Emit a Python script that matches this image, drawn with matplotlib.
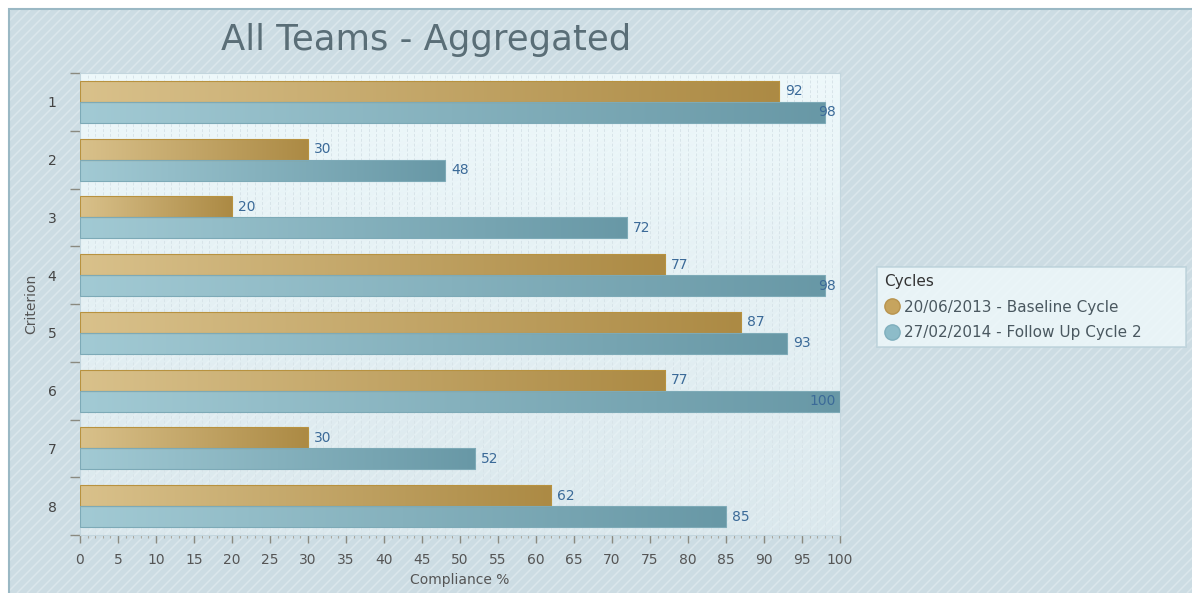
import numpy as np
import matplotlib
matplotlib.use("Agg")
import matplotlib.pyplot as plt
from matplotlib.collections import LineCollection
from matplotlib.patches import Rectangle
from matplotlib.lines import Line2D
from matplotlib.colors import to_rgb

criteria = ["1", "2", "3", "4", "5", "6", "7", "8"]
baseline = [92, 30, 20, 77, 87, 77, 30, 62]
follow_up = [98, 48, 72, 98, 93, 100, 52, 85]
series_names = ["20/06/2013 - Baseline Cycle", "27/02/2014 - Follow Up Cycle 2"]
x_ticks = list(range(0, 101, 5))

W, H = 1192, 593
fig = plt.figure(figsize=(W / 100, H / 100), dpi=100)
fig.patch.set_facecolor("white")

# hatched panel behind everything
bg = fig.add_axes([0, 0, 1, 1], zorder=-5)
bg.set_xlim(0, W)
bg.set_ylim(H, 0)
bg.axis("off")
panel = Rectangle((8, 8), W, H, facecolor="#CCDCE3", edgecolor="none")
bg.add_patch(panel)
segs = [[(c, H), (c + H, 0)] for c in range(-H, W + 20, 10)]
stripes = LineCollection(segs, colors="#DAE6EB", linewidths=1.1)
bg.add_collection(stripes)
stripes.set_clip_path(panel)
bg.plot([8.5, 8.5, W + 5], [H + 5, 8.5, 8.5], color="#9AB8C4", lw=1.5,
        solid_joinstyle="miter")

ax = fig.add_axes([80 / W, 1 - 535 / H, 760 / W, 462 / H])
ax.set_facecolor("none")

# plot area: whitish wash fading towards the bottom
n = len(criteria)
grad = np.zeros((200, 1, 4))
grad[..., :3] = np.array([240, 250, 252]) / 255
grad[:, 0, 3] = np.linspace(0.95, 0.4, 200)
ax.imshow(grad, extent=(0, 100, n - 0.5, -0.5), aspect="auto", zorder=0,
          interpolation="bilinear")

for g in range(1, 100):
    ax.axvline(g, color="#D8E4E9", lw=0.7, ls=(0, (3, 2)), zorder=0.5)

y = np.arange(n)
h = 0.365
bars_a = ax.barh(y - h / 2, baseline, height=h, facecolor="none",
                 edgecolor="#B8923F", lw=0.8, zorder=3)
bars_b = ax.barh(y + h / 2, follow_up, height=h, facecolor="none",
                 edgecolor="#7DAAB7", lw=0.8, zorder=3)


def fill_gradient(bars, c0, c1):
    ramp = np.linspace(0, 1, 256)[None, :, None]
    img = (1 - ramp) * np.array(to_rgb(c0)) + ramp * np.array(to_rgb(c1))
    for p in bars:
        x0, yb = p.get_x(), p.get_y()
        im = ax.imshow(img, extent=(x0, x0 + p.get_width(), yb + p.get_height(), yb),
                       aspect="auto", zorder=2, interpolation="bilinear")
        im.set_clip_path(p)


fill_gradient(bars_a, "#D9C18B", "#AC8A44")
fill_gradient(bars_b, "#A2CAD4", "#6898A6")

for vals, off in ((baseline, -h / 2), (follow_up, h / 2)):
    for i, v in enumerate(vals):
        if v >= 97:
            ax.text(99.5, i + off, str(v), ha="right", va="center",
                    fontsize=10, color="#3B6A98", zorder=4)
        else:
            ax.text(v + 0.8, i + off, str(v), ha="left", va="center",
                    fontsize=10, color="#3B6A98", zorder=4)

ax.set_xlim(0, 100)
ax.set_ylim(n - 0.5, -0.5)
ax.set_xticks(x_ticks)
ax.set_xticks(range(0, 101), minor=True)
ax.set_yticks(y)
ax.set_yticklabels(criteria)
ax.set_yticks(np.arange(n + 1) - 0.5, minor=True)
ax.tick_params(axis="y", which="major", length=0, pad=17, labelsize=10,
               labelcolor="#444444")
ax.tick_params(axis="y", which="minor", length=7, color="#8A8A80", width=1)
ax.tick_params(axis="x", which="major", length=6, color="#8A8A80", width=1,
               pad=7, labelsize=10, labelcolor="#555555")
ax.tick_params(axis="x", which="minor", length=2, color="#A8A8A0", width=0.8)
for s in ax.spines.values():
    s.set_color("#C3D6DE")

ax.set_xlabel("Compliance %", fontsize=10, color="#555555", labelpad=4)
ax.set_ylabel("Criterion", fontsize=10, color="#555555", labelpad=7)

fig.text(426 / W, 1 - 40 / H, "All Teams - Aggregated", ha="center", va="center",
         fontsize=25.5, color="#5A6E77")

handles = [
    Line2D([], [], ls="", marker="o", markersize=11, markerfacecolor="#C6A45E",
           markeredgecolor="#B8944E"),
    Line2D([], [], ls="", marker="o", markersize=11, markerfacecolor="#8DBCC9",
           markeredgecolor="#7FAFBD"),
]
leg = fig.legend(handles, series_names, title="Cycles", loc="upper left",
                 bbox_to_anchor=(877 / W, 1 - 349 / H, 309 / W, 82 / H),
                 mode="expand", borderaxespad=0, fontsize=11,
                 title_fontsize=11, frameon=True, fancybox=False,
                 handletextpad=0.35, handlelength=1.0, borderpad=0.45,
                 labelspacing=0.7, alignment="left")
leg.get_frame().set_facecolor("#F0FAFC")
leg.get_frame().set_edgecolor("#B8CFD8")
leg.get_frame().set_linewidth(1.2)
for t in leg.get_texts():
    t.set_color("#4A5860")
leg.get_title().set_color("#333333")

fig.savefig("out.png", dpi=100)
